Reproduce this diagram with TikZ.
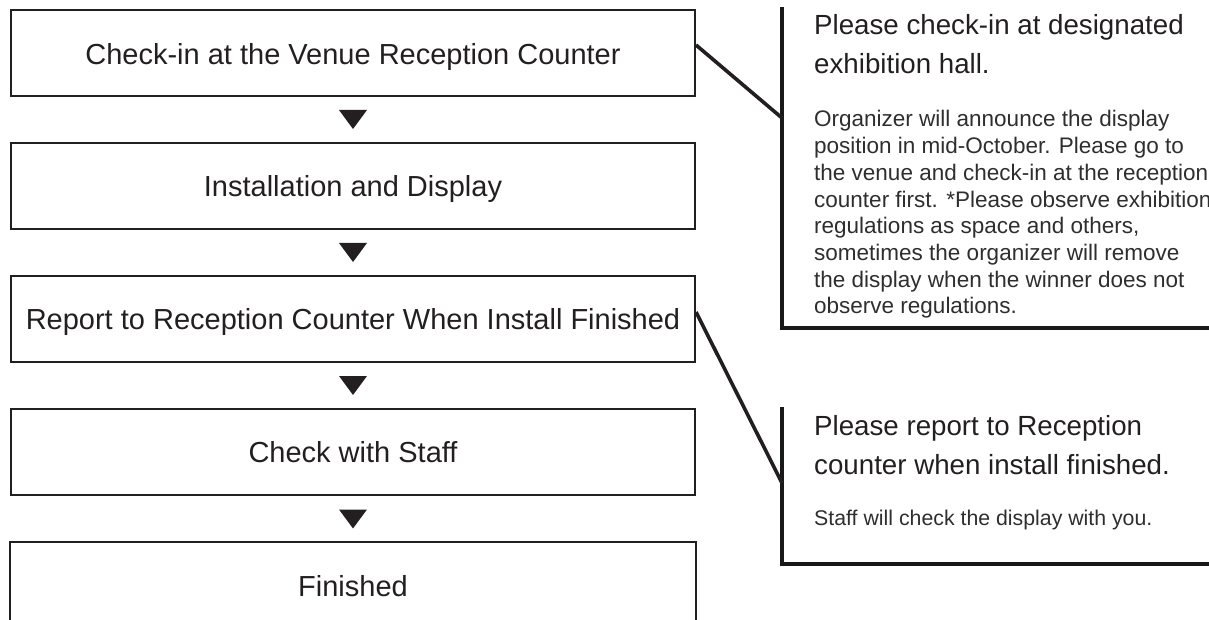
\documentclass[tikz,border=0pt]{standalone}
\usepackage{fontspec}
\setmainfont{Liberation Sans}
\usetikzlibrary{calc}
\definecolor{ink}{HTML}{231F20}
\definecolor{bodyink}{HTML}{2E2E2E}
\newcommand{\linesat}[2]{\vtop{\baselineskip=#1pt\lineskiplimit=-100pt\lineskip=0pt#2}}
\begin{document}
\begin{tikzpicture}[x=1pt,y=-1pt,
  stepbox/.style={draw=ink,line width=2pt,minimum width=684pt,minimum height=86pt,inner sep=0pt,anchor=north west},
  boxtext/.style={text=ink,font=\fontsize{29}{35}\selectfont,anchor=base,inner sep=0pt},
  tri/.style={fill=ink,draw=none},
  panelline/.style={draw=black!90,line width=4.5pt},
  leader/.style={draw=ink,line width=3.6pt},
  ptitle/.style={text=ink,font=\fontsize{27.7}{39}\selectfont,anchor=base west,inner sep=0pt},
  pbody/.style={text=bodyink,anchor=base west,inner sep=0pt}]
\useasboundingbox (0,0) rectangle (1209,620);
\clip (0,0) rectangle (1209,620);

% left flow boxes
\node[stepbox] (b1) at (10,9) {};
\node[stepbox] (b2) at (10,142) {};
\node[stepbox] (b3) at (10,275) {};
\node[stepbox] (b4) at (10,408) {};
\node[stepbox,draw=none] (b5) at (10,542) {};
\draw[draw=ink,line width=2pt] (b5.south west) ++(0,20) -- (b5.north west) -- (b5.north east) -- ++(0,100);

\node[boxtext] (t1) at ($(b1.center)+(0,11.5)$) {Check-in at the Venue Reception Counter};
\node[boxtext] (t2) at ($(b2.center)+(0,10.5)$) {Installation and Display};
\node[boxtext] (t3) at ($(b3.center)+(0,10.5)$) {Report to Reception Counter When Install Finished};
\node[boxtext] (t4) at ($(b4.center)+(0,10.5)$) {Check with Staff};
\node[boxtext] (t5) at ($(b5.center)+(0,10.5)$) {Finished};

% triangles
\foreach \a/\b in {b1/b2,b2/b3,b3/b4,b4/b5}{
  \coordinate (m) at ($(\a.south)!0.5!(\b.north)$);
  \fill[tri] ($(m)+(-14,-9.5)$) -- ($(m)+(14,-9.5)$) -- ($(m)+(0,9.5)$) -- cycle;
}

% right panels
\coordinate (p1top) at (782,7);
\coordinate (p1corner) at (782,328);
\coordinate (p1end) at (1215,328);
\coordinate (p1join) at (782,118);
\draw[panelline] (p1top) -- (p1corner) -- (p1end);
\coordinate (p2top) at (782,407);
\coordinate (p2corner) at (782,564);
\coordinate (p2end) at (1215,564);
\coordinate (p2join) at (782,483);
\draw[panelline] (p2top) -- (p2corner) -- (p2end);

% leaders
\draw[leader] ($(b1.north east)+(0,36)$) -- (p1join);
\draw[leader] ($(b3.north east)+(0,37)$) -- (p2join);

% panel 1 texts
\node[ptitle] (h1) at (814,35) {\linesat{39}{\hbox{Please check-in at designated}\hbox{exhibition hall.}}};
\node[pbody,font=\fontsize{22.5}{26.7}\selectfont] (d1) at (814,127) {\linesat{26.7}{%
\hbox{Organizer will announce the display}%
\hbox{position in mid-October. Please go to}%
\hbox{the venue and check-in at the reception}%
\hbox{counter first. *Please observe exhibition}%
\hbox{regulations as space and others,}%
\hbox{sometimes the organizer will remove}%
\hbox{the display when the winner does not}%
\hbox{observe regulations.}}};

% panel 2 texts
\node[ptitle] (h2) at (814,435) {\linesat{39}{\hbox{Please report to Reception}\hbox{counter when install finished.}}};
\node[pbody,font=\fontsize{21.3}{26}\selectfont] (d2) at (814,525) {Staff will check the display with you.};
\end{tikzpicture}
\end{document}
